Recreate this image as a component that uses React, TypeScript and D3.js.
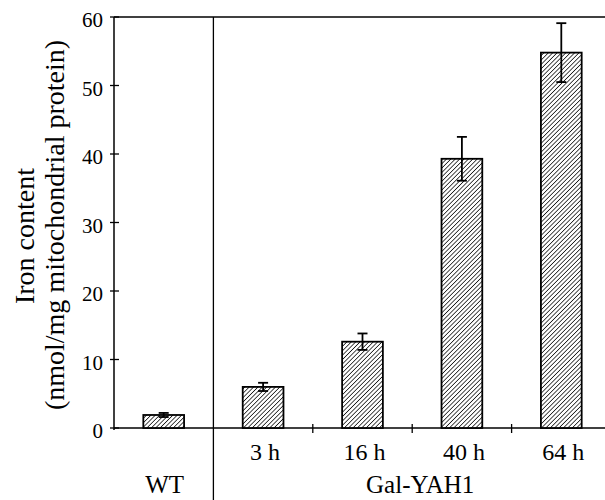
import React from "react";
import * as d3 from "d3";

const categories = ["WT", "3 h", "16 h", "40 h", "64 h"];
const ironValues = [1.9, 6.0, 12.6, 39.3, 54.8];
const ironErrors = [0.3, 0.6, 1.2, 3.2, 4.3];
const yTicks = [0, 10, 20, 30, 40, 50, 60];
const groupLabels = [
  { label: "WT", cats: ["WT"] },
  { label: "Gal-YAH1", cats: ["3 h", "16 h", "40 h", "64 h"] },
];

const width = 605;
const height = 500;
const margin = { top: 17, left: 114, bottom: 72 };
const font = "'Liberation Serif', 'Times New Roman', serif";

const App = () => {
  const x = d3
    .scaleBand()
    .domain(categories)
    .range([margin.left, margin.left + 497])
    .paddingInner(0.59)
    .paddingOuter(0.295);

  const y = d3
    .scaleLinear()
    .domain([0, 60])
    .range([height - margin.bottom, margin.top]);

  const step = x.step();
  const y0 = y(0);
  const bw = x.bandwidth();

  // boundary between WT and the Gal-YAH1 group
  const divider = (x("WT") as number) - (step - bw) / 2 + step;

  return (
    <svg
      width={width}
      height={height}
      style={{ position: "absolute", left: 0, top: 0, background: "#fff" }}
      fontFamily={font}
    >
      <defs>
        <pattern
          id="hatch"
          width="3.1"
          height="3.1"
          patternUnits="userSpaceOnUse"
          patternTransform="rotate(45)"
        >
          <rect width="3.1" height="3.1" fill="#fff" />
          <line x1="0" y1="0" x2="0" y2="3.1" stroke="#000" strokeWidth="1.4" />
        </pattern>
      </defs>

      {/* frame */}
      <line x1={margin.left} x2={width} y1={margin.top} y2={margin.top} stroke="#000" strokeWidth={1.5} />
      <line x1={margin.left} x2={width} y1={y0} y2={y0} stroke="#000" strokeWidth={1.5} />
      <line x1={margin.left} x2={margin.left} y1={margin.top} y2={y0 + 2} stroke="#000" strokeWidth={1.5} />
      <line x1={divider} x2={divider} y1={margin.top} y2={height} stroke="#000" strokeWidth={1.3} />

      {/* y ticks */}
      {yTicks.map((t) => (
        <g key={t}>
          <line x1={margin.left - 4} x2={margin.left + 5} y1={y(t)} y2={y(t)} stroke="#000" strokeWidth={1.3} />
          <text x={margin.left - 11} y={y(t) + 3} textAnchor="end" dominantBaseline="central" fontSize={21}>
            {t}
          </text>
        </g>
      ))}

      {/* x ticks between Gal-YAH1 categories */}
      {categories.slice(2).map((c) => {
        const xb = (x(c) as number) - (step - bw) / 2;
        return <line key={c} x1={xb} x2={xb} y1={y0 - 4} y2={y0 + 5} stroke="#000" strokeWidth={1.3} />;
      })}

      {/* bars */}
      {categories.map((c, i) => (
        <rect
          key={c}
          x={x(c)}
          y={y(ironValues[i])}
          width={bw}
          height={y0 - y(ironValues[i])}
          fill="url(#hatch)"
          stroke="#000"
          strokeWidth={1.8}
        />
      ))}

      {/* error bars */}
      {categories.map((c, i) => {
        const cx = (x(c) as number) + bw / 2;
        const hi = y(ironValues[i] + ironErrors[i]);
        const lo = y(ironValues[i] - ironErrors[i]);
        return (
          <g key={c} stroke="#000" strokeWidth={1.8}>
            <line x1={cx} x2={cx} y1={hi} y2={lo} />
            <line x1={cx - 5} x2={cx + 5} y1={hi} y2={hi} />
            <line x1={cx - 5} x2={cx + 5} y1={lo} y2={lo} />
          </g>
        );
      })}

      {/* category labels */}
      {categories.slice(1).map((c) => (
        <text key={c} x={(x(c) as number) + bw / 2 + 2} y={460} textAnchor="middle" fontSize={24}>
          {c}
        </text>
      ))}

      {/* group labels */}
      {groupLabels.map((g) => {
        const first = (x(g.cats[0]) as number) - (step - bw) / 2;
        const last = (x(g.cats[g.cats.length - 1]) as number) - (step - bw) / 2 + step;
        const cx = g.label === "WT" ? (first + last) / 2 + 1 : (first + last) / 2 + 8;
        return (
          <text key={g.label} x={cx} y={493} textAnchor="middle" fontSize={25}>
            {g.label}
          </text>
        );
      })}

      {/* y title */}
      <text transform="translate(34,236) rotate(-90)" textAnchor="middle" fontSize={28}>
        Iron content
      </text>
      <text transform="translate(64,225) rotate(-90)" textAnchor="middle" fontSize={28}>
        (nmol/mg mitochondrial protein)
      </text>
    </svg>
  );
};

export default App;
